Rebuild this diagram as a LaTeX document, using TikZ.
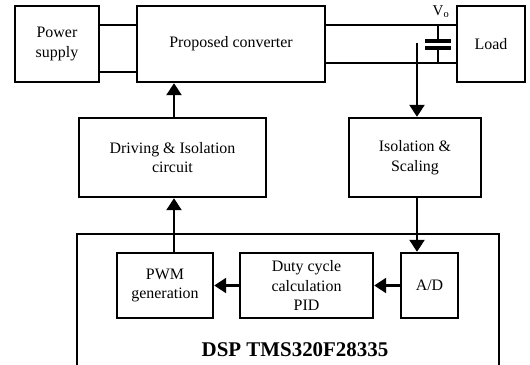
\documentclass[tikz,border=0pt]{standalone}
\usepackage{fontspec}
\setmainfont{Liberation Serif}
\usetikzlibrary{arrows.meta}

\tikzset{
  block/.style={draw, line width=2.4bp, align=center, inner sep=2bp},
  wire/.style={line width=2.2bp},
  sig/.style={line width=2.4bp, -{Triangle[width=15bp,length=12bp]}},
  plate/.style={line width=3.2bp}
}

\begin{document}
\begin{tikzpicture}[x=1bp, y=-1bp, font=\fontsize{16}{19.5}\selectfont]
  \useasboundingbox (0,0) rectangle (530,364);

  % power stage
  \node[block, minimum width=84bp, minimum height=76bp] (ps) at (57,44) {Power\\supply};
  \node[block, minimum width=188bp, minimum height=76bp] (pc) at (231,44) {Proposed converter};
  \node[block, minimum width=68bp, minimum height=76bp] (load) at (491,44) {Load};
  \node[font=\fontsize{15}{17}\selectfont] (vo) at (441,12) {V\textsubscript{o}};

  % interface boxes
  \node[block, minimum width=187bp, minimum height=79bp] (drv) at (172.5,157.5) {Driving \& Isolation\\circuit};
  \node[block, minimum width=132bp, minimum height=79bp] (iso) at (415,157.5) {Isolation \&\\Scaling};

  % DSP
  \node[block, minimum width=422bp, minimum height=134bp] (dsp) at (288,301) {};
  \node[block, minimum width=96bp, minimum height=65bp] (pwm) at (165,285.5) {PWM\\generation};
  \node[block, minimum width=133bp, minimum height=65bp] (duty) at (306.5,285.5) {Duty cycle\\calculation\\PID};
  \node[block, minimum width=57bp, minimum height=65bp] (ad) at (429.5,285.5) {A/D};
  \node[font=\fontsize{21}{25}\selectfont\bfseries] (dsplbl) at (295,350) {DSP TMS320F28335};

  % wires
  \coordinate (wt) at (0,25);
  \coordinate (wl) at (0,72);
  \coordinate (wr) at (0,63);
  \draw[wire] (ps.east |- wt) -- (pc.west |- wt);
  \draw[wire] (ps.east |- wl) -- (pc.west |- wl);
  \draw[wire] (pc.east |- wt) -- (load.west |- wt);
  \draw[wire] (pc.east |- wr) -- (load.west |- wr);

  % output capacitor
  \coordinate (ct) at (438,41);
  \coordinate (cb) at (438,48);
  \draw[wire] (ct) -- (ct |- wt);
  \draw[wire] (cb) -- (cb |- wr);
  \draw[plate] ([xshift=-13bp]ct) -- ([xshift=13bp]ct);
  \draw[plate] ([xshift=-13bp]cb) -- ([xshift=13bp]cb);

  % signal paths
  \coordinate (fb) at (417,43);
  \coordinate (dr) at (174,0);
  \draw[sig] (fb) -- (fb |- iso.north);
  \draw[sig] (iso.south -| fb) -- (fb |- ad.north);
  \draw[sig] (ad.west) -- (duty.east);
  \draw[sig] (duty.west) -- (pwm.east);
  \draw[sig] (pwm.north -| dr) -- (dr |- drv.south);
  \draw[sig] (drv.north -| dr) -- (dr |- pc.south);
\end{tikzpicture}
\end{document}
